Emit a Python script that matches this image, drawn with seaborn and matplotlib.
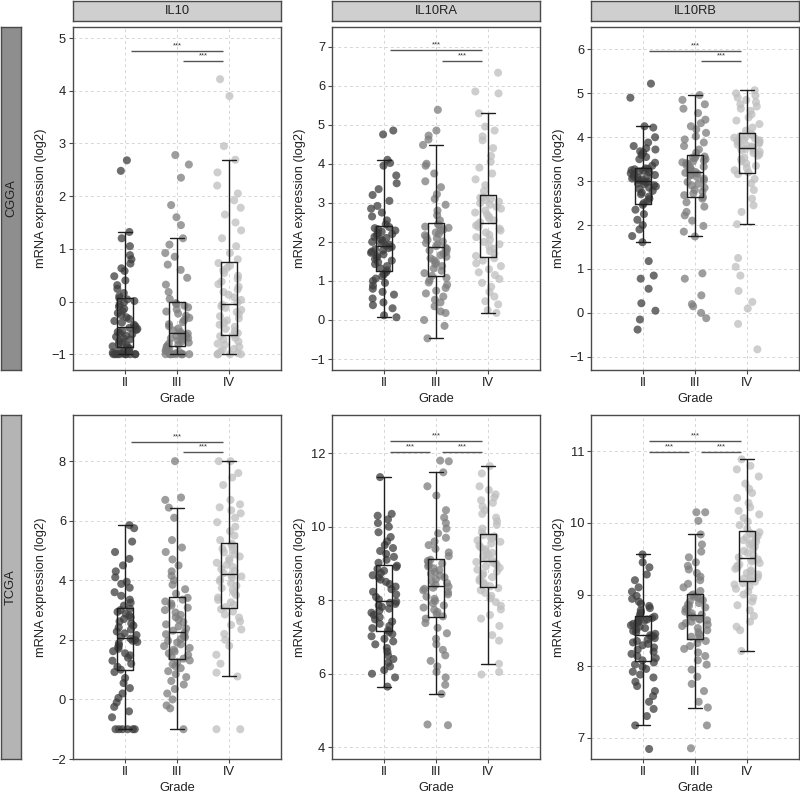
import matplotlib
matplotlib.use("Agg")
import matplotlib.pyplot as plt
import seaborn as sns
import numpy as np
import pandas as pd

sns.set_theme(style="white")
plt.rcParams['font.family'] = ['Liberation Sans', 'DejaVu Sans']

genes = ["IL10", "IL10RA", "IL10RB"]
cohorts = ["CGGA", "TCGA"]
grades = ["II", "III", "IV"]

# values (log2 expression), one list per cohort/gene/grade
cgga_il10_ii = [-1, -1, -1, -1, -1, -1, -1, -1, -1, -0.99, -0.97, -0.95, -0.93, -0.91, -0.89, -0.87,
                -0.85, -0.83, -0.8, -0.78, -0.75, -0.72, -0.7, -0.67, -0.65, -0.62, -0.6, -0.58, -0.56, -0.54, -0.52, -0.5,
                -0.47, -0.44, -0.4, -0.37, -0.33, -0.3, -0.26, -0.22, -0.18, -0.14, -0.1, -0.06, -0.02, 0.01, 0.04, 0.06,
                0.1, 0.16, 0.24, 0.31, 0.4, 0.48, 0.58, 0.63, 0.72, 0.8, 0.88, 1.05, 1.2, 1.32, 2.48, 2.68]
cgga_il10_iii = [-1, -1, -1, -1, -1, -1, -1, -1, -1, -0.98, -0.96, -0.94, -0.92, -0.9, -0.88, -0.86,
                 -0.84, -0.82, -0.8, -0.78, -0.76, -0.74, -0.72, -0.7, -0.69, -0.67, -0.66, -0.65, -0.64, -0.63, -0.62, -0.61,
                 -0.58, -0.55, -0.51, -0.47, -0.43, -0.39, -0.35, -0.31, -0.27, -0.23, -0.19, -0.15, -0.11, -0.08, -0.05, -0.03,
                 0.05, 0.18, 0.32, 0.45, 0.6, 0.7, 0.85, 0.92, 1.08, 1.2, 1.45, 1.6, 1.83, 2.35, 2.6, 2.78]
cgga_il10_iv = [-1, -1, -1, -1, -1, -0.98, -0.95, -0.92, -0.9, -0.86, -0.82, -0.8, -0.76, -0.72, -0.69, -0.66,
                -0.63, -0.6, -0.56, -0.52, -0.48, -0.44, -0.4, -0.36, -0.32, -0.28, -0.24, -0.2, -0.16, -0.12, -0.09, -0.06,
                -0.02, 0.03, 0.08, 0.13, 0.18, 0.23, 0.28, 0.33, 0.38, 0.43, 0.49, 0.54, 0.59, 0.64, 0.68, 0.73,
                0.8, 0.92, 1.05, 1.2, 1.35, 1.5, 1.65, 1.78, 1.92, 2.05, 2.2, 2.45, 2.69, 2.95, 3.9, 4.22]

cgga_il10ra_ii = [0.07, 0.12, 0.3, 0.38, 0.45, 0.55, 0.65, 0.72, 0.8, 0.88, 0.95, 1.0, 1.06, 1.12, 1.17, 1.22,
                  1.27, 1.32, 1.38, 1.43, 1.48, 1.52, 1.56, 1.6, 1.64, 1.68, 1.72, 1.75, 1.78, 1.81, 1.84, 1.87,
                  1.9, 1.93, 1.96, 2.0, 2.03, 2.07, 2.1, 2.13, 2.17, 2.2, 2.23, 2.26, 2.29, 2.32, 2.35, 2.38,
                  2.45, 2.55, 2.65, 2.75, 2.85, 2.92, 3.05, 3.2, 3.35, 3.5, 3.7, 3.95, 4.02, 4.1, 4.75, 4.85]
cgga_il10ra_iii = [-0.47, -0.15, 0.0, 0.18, 0.22, 0.35, 0.45, 0.52, 0.6, 0.68, 0.75, 0.82, 0.9, 0.96, 1.02, 1.08,
                   1.13, 1.2, 1.26, 1.32, 1.38, 1.43, 1.48, 1.53, 1.58, 1.62, 1.66, 1.7, 1.74, 1.78, 1.82, 1.85,
                   1.89, 1.93, 1.97, 2.01, 2.05, 2.09, 2.13, 2.17, 2.2, 2.24, 2.28, 2.32, 2.36, 2.39, 2.42, 2.45,
                   2.55, 2.68, 2.8, 2.95, 3.1, 3.22, 3.4, 3.55, 3.75, 3.95, 4.0, 4.48, 4.62, 4.72, 4.85, 5.38]
cgga_il10ra_iv = [0.18, 0.25, 0.4, 0.48, 0.6, 0.72, 0.85, 0.95, 1.05, 1.15, 1.22, 1.3, 1.38, 1.45, 1.52, 1.58,
                  1.64, 1.7, 1.76, 1.82, 1.88, 1.94, 2.0, 2.06, 2.12, 2.18, 2.24, 2.29, 2.34, 2.38, 2.42, 2.45,
                  2.5, 2.55, 2.6, 2.65, 2.7, 2.75, 2.8, 2.85, 2.9, 2.95, 2.99, 3.03, 3.07, 3.1, 3.13, 3.15,
                  3.3, 3.45, 3.6, 3.75, 3.9, 4.05, 4.2, 4.4, 4.6, 4.7, 4.85, 4.95, 5.29, 5.8, 5.85, 6.33]

cgga_il10rb_ii = [-0.38, -0.15, 0.05, 0.22, 0.55, 0.78, 0.85, 1.18, 1.61, 1.75, 1.9, 2.0, 2.12, 2.25, 2.35, 2.46,
                  2.5, 2.55, 2.6, 2.65, 2.7, 2.74, 2.78, 2.82, 2.85, 2.88, 2.91, 2.93, 2.95, 2.97, 2.99, 3.0,
                  3.02, 3.04, 3.06, 3.08, 3.1, 3.12, 3.14, 3.16, 3.18, 3.2, 3.22, 3.24, 3.25, 3.27, 3.28, 3.29,
                  3.35, 3.42, 3.5, 3.55, 3.6, 3.65, 3.68, 3.72, 3.75, 3.8, 3.88, 4.0, 4.22, 4.25, 4.9, 5.22]
cgga_il10rb_iii = [-0.12, 0.0, 0.15, 0.2, 0.4, 0.78, 0.9, 1.74, 1.85, 1.98, 2.1, 2.22, 2.3, 2.42, 2.52, 2.6,
                   2.64, 2.68, 2.72, 2.76, 2.8, 2.85, 2.9, 2.94, 2.98, 3.02, 3.06, 3.1, 3.13, 3.15, 3.17, 3.19,
                   3.21, 3.24, 3.27, 3.3, 3.33, 3.36, 3.39, 3.41, 3.43, 3.45, 3.47, 3.5, 3.52, 3.54, 3.56, 3.57,
                   3.65, 3.72, 3.8, 3.88, 3.95, 4.02, 4.1, 4.18, 4.25, 4.32, 4.4, 4.55, 4.65, 4.75, 4.85, 4.96]
cgga_il10rb_iv = [-0.83, -0.25, 0.1, 0.25, 0.5, 0.85, 1.05, 1.25, 2.02, 2.3, 2.45, 2.6, 2.8, 2.95, 3.05, 3.16,
                  3.2, 3.25, 3.3, 3.35, 3.4, 3.45, 3.5, 3.54, 3.58, 3.61, 3.64, 3.67, 3.69, 3.71, 3.73, 3.75,
                  3.77, 3.79, 3.81, 3.83, 3.85, 3.87, 3.89, 3.91, 3.93, 3.95, 3.97, 3.99, 4.01, 4.03, 4.05, 4.07,
                  4.15, 4.22, 4.3, 4.38, 4.45, 4.52, 4.6, 4.65, 4.7, 4.75, 4.8, 4.85, 4.9, 4.95, 5.0, 5.07]

tcga_il10_ii = [-1, -1, -1, -1, -1, -1, -0.6, -0.4, -0.25, -0.1, 0.05, 0.2, 0.38, 0.55, 0.72, 0.92,
                1.0, 1.1, 1.2, 1.3, 1.4, 1.48, 1.55, 1.62, 1.7, 1.76, 1.82, 1.88, 1.93, 1.97, 2.0, 2.04,
                2.1, 2.16, 2.22, 2.28, 2.35, 2.42, 2.48, 2.55, 2.62, 2.7, 2.76, 2.82, 2.88, 2.94, 3.0, 3.05,
                3.15, 3.25, 3.35, 3.48, 3.6, 3.75, 3.88, 3.95, 4.1, 4.3, 4.5, 4.72, 4.95, 5.3, 5.75, 5.85]
tcga_il10_iii = [-1, -0.3, -0.2, 0.0, 0.2, 0.35, 0.5, 0.62, 0.75, 0.85, 0.95, 1.05, 1.12, 1.18, 1.25, 1.31,
                 1.37, 1.43, 1.49, 1.55, 1.61, 1.67, 1.73, 1.79, 1.85, 1.91, 1.97, 2.03, 2.09, 2.14, 2.19, 2.24,
                 2.31, 2.38, 2.45, 2.52, 2.6, 2.68, 2.76, 2.84, 2.92, 3.0, 3.08, 3.15, 3.22, 3.29, 3.35, 3.41,
                 3.55, 3.7, 3.85, 4.0, 4.15, 4.3, 4.5, 4.7, 4.95, 5.1, 5.35, 6.1, 6.44, 6.7, 6.78, 8.0]
tcga_il10_iv = [-1, -1, 0.77, 0.9, 1.2, 1.5, 1.8, 2.0, 2.2, 2.35, 2.5, 2.62, 2.75, 2.85, 2.95, 3.03,
                3.1, 3.18, 3.26, 3.34, 3.42, 3.5, 3.58, 3.66, 3.74, 3.82, 3.9, 3.97, 4.03, 4.08, 4.13, 4.17,
                4.24, 4.31, 4.38, 4.45, 4.52, 4.59, 4.66, 4.73, 4.8, 4.87, 4.94, 5.0, 5.06, 5.12, 5.18, 5.23,
                5.35, 5.5, 5.65, 5.8, 5.95, 6.1, 6.25, 6.35, 6.45, 6.55, 6.7, 7.2, 7.45, 7.6, 8.0, 8.0]

tcga_il10ra_ii = [5.65, 5.9, 6.0, 6.1, 6.2, 6.3, 6.4, 6.5, 6.6, 6.7, 6.8, 6.88, 6.95, 7.02, 7.08, 7.13,
                  7.18, 7.24, 7.3, 7.36, 7.42, 7.48, 7.54, 7.6, 7.66, 7.72, 7.77, 7.82, 7.86, 7.9, 7.93, 7.96,
                  8.02, 8.09, 8.16, 8.23, 8.3, 8.37, 8.44, 8.5, 8.56, 8.62, 8.68, 8.74, 8.8, 8.85, 8.9, 8.94,
                  9.02, 9.1, 9.18, 9.26, 9.34, 9.42, 9.5, 9.6, 9.72, 9.85, 10.0, 10.1, 10.2, 10.3, 10.35, 11.35]
tcga_il10ra_iii = [4.6, 4.62, 5.45, 5.7, 5.9, 6.05, 6.2, 6.35, 6.5, 6.65, 6.8, 6.95, 7.1, 7.25, 7.38, 7.5,
                   7.56, 7.62, 7.68, 7.74, 7.8, 7.86, 7.92, 7.98, 8.04, 8.1, 8.16, 8.22, 8.27, 8.31, 8.34, 8.37,
                   8.42, 8.47, 8.52, 8.57, 8.62, 8.67, 8.72, 8.77, 8.82, 8.87, 8.92, 8.96, 9.0, 9.04, 9.07, 9.1,
                   9.2, 9.3, 9.4, 9.5, 9.6, 9.7, 9.82, 9.95, 10.1, 10.25, 10.45, 10.85, 11.1, 11.48, 11.78, 11.8]
tcga_il10ra_iv = [5.98, 6.05, 6.27, 6.9, 7.05, 7.3, 7.5, 7.6, 7.75, 7.85, 7.95, 8.05, 8.12, 8.2, 8.27, 8.33,
                  8.38, 8.43, 8.48, 8.53, 8.58, 8.63, 8.68, 8.73, 8.78, 8.83, 8.88, 8.92, 8.96, 8.99, 9.02, 9.04,
                  9.09, 9.14, 9.19, 9.24, 9.29, 9.34, 9.39, 9.44, 9.49, 9.54, 9.59, 9.63, 9.67, 9.71, 9.74, 9.77,
                  9.85, 9.95, 10.05, 10.15, 10.25, 10.35, 10.45, 10.55, 10.65, 10.72, 10.8, 10.88, 11.0, 11.1, 11.45, 11.65]

tcga_il10rb_ii = [6.84, 7.17, 7.3, 7.4, 7.5, 7.58, 7.65, 7.72, 7.78, 7.84, 7.88, 7.92, 7.96, 7.99, 8.02, 8.05,
                  8.08, 8.11, 8.14, 8.17, 8.2, 8.23, 8.26, 8.29, 8.31, 8.33, 8.35, 8.37, 8.39, 8.41, 8.42, 8.43,
                  8.45, 8.47, 8.49, 8.51, 8.53, 8.55, 8.57, 8.59, 8.6, 8.62, 8.63, 8.64, 8.65, 8.67, 8.68, 8.69,
                  8.72, 8.75, 8.78, 8.81, 8.84, 8.87, 8.9, 8.94, 8.98, 9.04, 9.1, 9.2, 9.28, 9.38, 9.45, 9.56]
tcga_il10rb_iii = [6.85, 7.17, 7.42, 7.5, 7.65, 7.75, 7.85, 7.95, 8.02, 8.08, 8.14, 8.19, 8.24, 8.28, 8.32, 8.35,
                   8.38, 8.41, 8.44, 8.47, 8.5, 8.53, 8.56, 8.58, 8.6, 8.62, 8.64, 8.65, 8.66, 8.68, 8.69, 8.7,
                   8.72, 8.74, 8.76, 8.78, 8.8, 8.82, 8.84, 8.86, 8.88, 8.9, 8.92, 8.94, 8.96, 8.97, 8.99, 9.0,
                   9.05, 9.1, 9.15, 9.2, 9.25, 9.3, 9.35, 9.4, 9.45, 9.52, 9.6, 9.7, 9.84, 10.03, 10.15, 10.15]
tcga_il10rb_iv = [8.21, 8.5, 8.55, 8.62, 8.7, 8.78, 8.85, 8.9, 8.95, 9.0, 9.04, 9.08, 9.11, 9.14, 9.16, 9.18,
                  9.2, 9.22, 9.24, 9.26, 9.28, 9.3, 9.32, 9.34, 9.36, 9.38, 9.4, 9.42, 9.44, 9.46, 9.48, 9.49,
                  9.52, 9.55, 9.58, 9.61, 9.64, 9.67, 9.7, 9.72, 9.74, 9.76, 9.78, 9.8, 9.82, 9.84, 9.86, 9.87,
                  9.92, 9.97, 10.02, 10.07, 10.12, 10.17, 10.22, 10.28, 10.35, 10.42, 10.48, 10.55, 10.65, 10.75, 10.8, 10.89]

series = {
    ("CGGA", "IL10"): [cgga_il10_ii, cgga_il10_iii, cgga_il10_iv],
    ("CGGA", "IL10RA"): [cgga_il10ra_ii, cgga_il10ra_iii, cgga_il10ra_iv],
    ("CGGA", "IL10RB"): [cgga_il10rb_ii, cgga_il10rb_iii, cgga_il10rb_iv],
    ("TCGA", "IL10"): [tcga_il10_ii, tcga_il10_iii, tcga_il10_iv],
    ("TCGA", "IL10RA"): [tcga_il10ra_ii, tcga_il10ra_iii, tcga_il10ra_iv],
    ("TCGA", "IL10RB"): [tcga_il10rb_ii, tcga_il10rb_iii, tcga_il10rb_iv],
}

# significance brackets: (group a, group b, height)
sig_bars = {
    ("CGGA", "IL10"): [(0, 2, 4.76), (1, 2, 4.56)],
    ("CGGA", "IL10RA"): [(0, 2, 6.90), (1, 2, 6.63)],
    ("CGGA", "IL10RB"): [(0, 2, 5.97), (1, 2, 5.73)],
    ("TCGA", "IL10"): [(0, 2, 8.65), (1, 2, 8.30)],
    ("TCGA", "IL10RA"): [(0, 2, 12.32), (0, 1, 12.03), (1, 2, 12.03)],
    ("TCGA", "IL10RB"): [(0, 2, 11.14), (0, 1, 10.996), (1, 2, 10.996)],
}

rows = []
for (cohort, gene), groups in series.items():
    for grade, vals in zip(grades, groups):
        for v in vals:
            rows.append((cohort, gene, grade, v))
df = pd.DataFrame(rows, columns=["cohort", "gene", "grade", "value"])

# axis ranges / ticks per panel
ylims = {
    ("CGGA", "IL10"): ((-1.30, 5.21), np.arange(-1, 6, 1)),
    ("CGGA", "IL10RA"): ((-1.28, 7.50), np.arange(-1, 8, 1)),
    ("CGGA", "IL10RB"): ((-1.30, 6.51), np.arange(-1, 7, 1)),
    ("TCGA", "IL10"): ((-2.0, 9.55), np.arange(-2, 9, 2)),
    ("TCGA", "IL10RA"): ((3.68, 13.04), np.arange(4, 13, 2)),
    ("TCGA", "IL10RB"): ((6.70, 11.51), np.arange(7, 12, 1)),
}

palette = {"II": "#3d3d3d", "III": "#7d7d7d", "IV": "#bebebe"}
strip_colors = {"CGGA": "#8e8e8e", "TCGA": "#b4b4b4"}
edge = "#4a4a4a"
fs = 9.3

W, H = 800, 793
fig = plt.figure(figsize=(8.0, 7.93), dpi=100)
col_x = [73, 332, 591]
col_w = 208
row_y = [(27, 370), (415, 759)]

np.random.seed(3)
for r, cohort in enumerate(cohorts):
    top, bot = row_y[r]
    for c, gene in enumerate(genes):
        ax = fig.add_axes([col_x[c] / W, 1 - bot / H, col_w / W, (bot - top) / H])
        sub = df[(df.cohort == cohort) & (df.gene == gene)]
        sns.stripplot(data=sub, x="grade", y="value", hue="grade", order=grades,
                      palette=palette, jitter=0.25, size=5.8, alpha=0.75,
                      linewidth=0, legend=False, ax=ax, zorder=2)
        sns.boxplot(data=sub, x="grade", y="value", order=grades, width=0.3,
                    fill=False, color="#1e1e1e", linewidth=1.0, showfliers=False,
                    capwidths=0.26, ax=ax, zorder=3)
        (y0, y1), yt = ylims[(cohort, gene)]
        ax.set_xlim(-1.0, 3.0)
        ax.set_ylim(y0, y1)
        ax.set_yticks(yt)
        ax.set_yticklabels([str(int(t)).replace("-", "\u2212") for t in yt])
        ax.set_xticks([0, 1, 2])
        ax.set_xticklabels(grades)
        ax.grid(True, linestyle=(0, (3, 3)), color="#d6d6d6", linewidth=0.7)
        ax.set_axisbelow(True)
        for s in ax.spines.values():
            s.set_color(edge)
            s.set_linewidth(1.0)
        ax.tick_params(axis="both", direction="out", length=3, width=0.8,
                       color=edge, labelsize=fs, labelcolor="#222222", pad=2,
                       left=True, bottom=True)
        ax.set_xlabel("Grade", fontsize=fs, color="#222222", labelpad=3)
        ax.set_ylabel("mRNA expression (log2)", fontsize=fs, color="#222222", labelpad=3)

        for a, b, yv in sig_bars[(cohort, gene)]:
            ax.plot([a + 0.12, b - 0.12], [yv, yv], color="#555555", lw=1.0,
                    solid_capstyle="butt", zorder=4)
            ax.annotate("***", xy=((a + b) / 2, yv), xytext=(0, 1.2),
                        textcoords="offset points", ha="center", va="bottom",
                        fontsize=5.5, color="#333333")

        if r == 0:
            sax = fig.add_axes([col_x[c] / W, 1 - 20.5 / H, col_w / W, 19.5 / H])
            sax.set_facecolor("#cfcfcf")
            sax.set_xticks([])
            sax.set_yticks([])
            for s in sax.spines.values():
                s.set_color(edge)
                s.set_linewidth(1.0)
            sax.text(0.5, 0.5, gene, ha="center", va="center", fontsize=fs,
                     color="#222222", transform=sax.transAxes)

    lax = fig.add_axes([0.6 / W, 1 - bot / H, 20.8 / W, (bot - top) / H])
    lax.set_facecolor(strip_colors[cohort])
    lax.set_xticks([])
    lax.set_yticks([])
    for s in lax.spines.values():
        s.set_color(edge)
        s.set_linewidth(1.0)
    lax.text(0.5, 0.5, cohort, ha="center", va="center", rotation=90,
             fontsize=fs, color="#222222", transform=lax.transAxes)

fig.savefig("out.png", dpi=100, facecolor="white")
